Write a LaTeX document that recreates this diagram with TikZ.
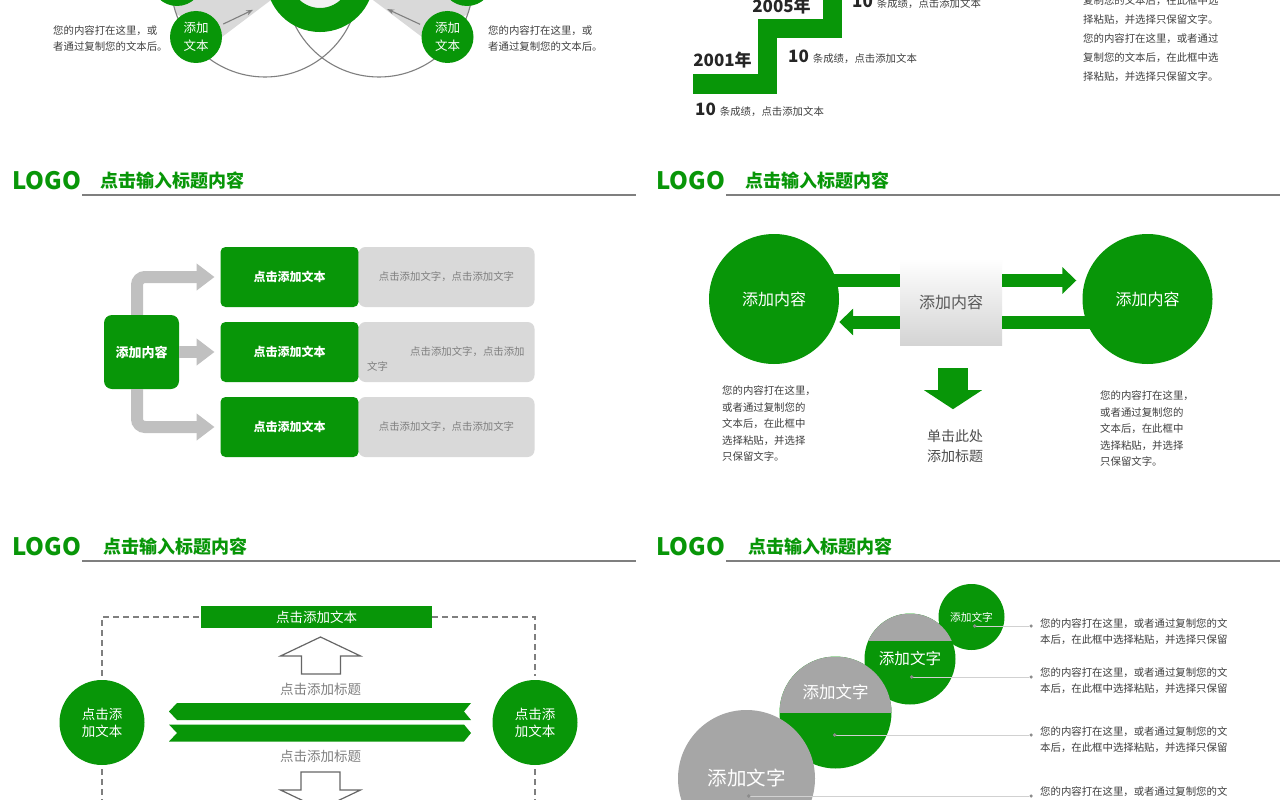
\documentclass[tikz,border=0pt]{standalone}
\usepackage{fontspec}
\setmainfont{Noto Sans CJK SC}
\usetikzlibrary{arrows.meta,positioning}
\definecolor{leaf}{RGB}{8,150,8}
\definecolor{panel}{RGB}{217,217,217}
\definecolor{ball}{RGB}{166,166,166}
\definecolor{ink}{RGB}{64,64,64}
\definecolor{soft}{RGB}{127,127,127}
\definecolor{pipegray}{RGB}{192,192,192}
\newcommand{\fsz}[2]{\fontsize{#1}{#2}\selectfont}

\tikzset{
  body/.style={font=\fsz{10.4}{16.5}, text=ink, inner sep=0pt, align=left, anchor=west},
  logo/.style={font=\fsz{24}{24}\bfseries, text=leaf, inner sep=0pt, anchor=west},
  headline/.style={font=\fsz{18}{18}\bfseries, text=leaf, inner sep=0pt, anchor=west},
  rule/.style={draw=soft, line width=1.3pt},
  oval/.style={shape=circle, fill=leaf, text=white, inner sep=0pt, align=center},
  arcline/.style={draw=soft, line width=1.1pt},
  pointer/.style={draw=soft, line width=1.1pt, -{Stealth[length=7pt,width=5pt]}},
  stair/.style={draw=leaf, line width=19pt, line join=miter},
  year/.style={font=\fsz{17}{17}\bfseries, text=black!85, inner sep=0pt},
  score/.style={font=\fsz{10.4}{12}, text=ink, inner sep=0pt, anchor=base west},
  hubbox/.style={fill=leaf, rounded corners=8pt, minimum width=75pt, minimum height=74pt, text=white, font=\fsz{13}{15}\bfseries},
  tagbox/.style={fill=leaf, rounded corners=5pt, minimum width=138pt, minimum height=60pt, text=white, font=\fsz{12}{14}\bfseries, outer sep=0pt},
  padbox/.style={fill=panel, rounded corners=7pt, minimum width=176pt, minimum height=60pt, text=soft, font=\fsz{10.4}{15}, outer sep=0pt},
  flow/.style={draw=pipegray, line width=12pt, rounded corners=8pt, -{Triangle[length=18pt,width=26pt]}},
  bigdot/.style={shape=circle, fill=leaf, minimum size=130pt, text=white, font=\fsz{16}{18}, inner sep=0pt},
  midbox/.style={top color=white, bottom color=black!17, minimum width=102pt, minimum height=86pt, text=black!65, font=\fsz{16}{18}},
  gbar/.style={draw=leaf, line width=13pt},
  garrow/.style={draw=leaf, line width=13pt, -{Triangle[length=14pt,width=26pt]}},
  downarr/.style={draw=leaf, line width=30pt, -{Triangle[length=19pt,width=57pt]}},
  hint/.style={font=\fsz{14}{20}, text=black!70, align=center, inner sep=0pt},
  dashline/.style={draw=soft, line width=1.1pt, dash pattern=on 6pt off 4pt},
  strip/.style={fill=leaf, minimum width=231pt, minimum height=22pt, text=white, font=\fsz{13.5}{15}, inner sep=0pt},
  softtxt/.style={text=soft, font=\fsz{13.5}{15}, inner sep=0pt},
  hollow/.style={draw=black!60, line width=1.2pt, fill=white, line join=miter},
  halfball/.style={shape=circle, fill=leaf, inner sep=0pt, text=white,
    path picture={\fill[ball] (path picture bounding box.north west) rectangle ([yshift=#1]path picture bounding box.east);}},
  enddot/.style={shape=circle, fill=black!45, minimum size=3.5pt, inner sep=0pt},
  leader/.style={draw=black!18, line width=0.8pt, {Circle[length=3.5pt,color=black!45]}-}
}

\begin{document}
\begin{tikzpicture}[x=1pt,y=-1pt]
    \fill[white] (0,0) rectangle (1280,800);
    \useasboundingbox (0,0) rectangle (1280,800);

    % headers
    \foreach \x/\y/\tx/\n in {0/181/100/a,644/181/745/b,0/547/103/c,644/547/748/d}{
        \node[logo] (logo\n) at (\x+12,\y) {LOGO};
        \node[headline] (title\n) at (\tx,\y) {点击输入标题内容};
        \draw[rule] (\x+82,\y+14) -- (\x+636,\y+14);
    }

    % top left
    \fill[panel] (172.6,0) -- (176,14) -- (222,37) -- (271,0) -- cycle;
    \fill[panel] (471.4,0) -- (468,14) -- (422,37) -- (373,0) -- cycle;
    \draw[arcline] (265,-17) circle[radius=94pt];
    \draw[arcline] (379,-17) circle[radius=94pt];
    \node[shape=circle, draw=leaf, line width=24pt, fill=panel!35, minimum size=84pt, inner sep=0pt] (ring) at (320,-22) {};
    \node[oval, minimum size=52pt] (tlTop) at (177,-20) {};
    \node[oval, minimum size=52pt] (trTop) at (467,-20) {};
    \node[oval, minimum size=52pt, font=\fsz{12.5}{18}] (tlDot) at (196,37) {添加\\文本};
    \node[oval, minimum size=52pt, font=\fsz{12.5}{18}] (trDot) at (447.5,37) {添加\\文本};
    \draw[pointer, shorten <=4pt, shorten >=20pt] (tlDot) -- (ring);
    \draw[pointer, shorten <=4pt, shorten >=20pt] (trDot) -- (ring);
    \node[body, font=\fsz{10.4}{16}] (tlNote) at (53,39) {您的内容打在这里，或\\者通过复制您的文本后。};
    \node[body, font=\fsz{10.4}{16}] (trNote) at (488,39) {您的内容打在这里，或\\者通过复制您的文本后。};

    % top right
    \draw[stair] (693,84) -- (767,84) -- (767,28.5) -- (832,28.5) -- (832,-12);
    \node[year] (y1) at (722.5,60) {2001年};
    \node[year] (y2) at (781.5,6) {2005年};
    \node[score] (s1) at (695,115) {{\color{black!85}\fsz{17}{17}\bfseries 10}\hspace{4pt}条成绩，点击添加文本};
    \node[score] (s2) at (788,63) {{\color{black!85}\fsz{17}{17}\bfseries 10}\hspace{4pt}条成绩，点击添加文本};
    \node[score] (s3) at (852,8) {{\color{black!85}\fsz{17}{17}\bfseries 10}\hspace{4pt}条成绩，点击添加文本};
    \node[body, font=\fsz{10.4}{19}] (trBlock) at (1083,39) {复制您的文本后，在此框中选\\择粘贴，并选择只保留文字。\\您的内容打在这里，或者通过\\复制您的文本后，在此框中选\\择粘贴，并选择只保留文字。};

    % middle left
    \node[hubbox] (hub) at (141.5,352) {添加内容};
    \node[tagbox] (t1) at (289.5,277) {点击添加文本};
    \node[tagbox, below=15pt of t1] (t2) {点击添加文本};
    \node[tagbox, below=15pt of t2] (t3) {点击添加文本};
    \node[padbox, right=0pt of t1] (p1) {点击添加文字，点击添加文字};
    \node[padbox, right=0pt of t2] (p2) {};
    \node[padbox, right=0pt of t3] (p3) {点击添加文字，点击添加文字};
    \node[body, text=soft, font=\fsz{10.4}{15}] (p2txt) at (367,359.5) {\hspace*{43pt}点击添加文字，点击添加\\文字};
    \draw[flow] ([xshift=-4.5pt]hub.north) |- ([xshift=-6pt]t1.west);
    \draw[flow] (hub.east) -- ([xshift=-6pt]t2.west);
    \draw[flow] ([xshift=-4.5pt]hub.south) |- ([xshift=-6pt]t3.west);

    % middle right
    \coordinate (upY) at (0,280.5);
    \coordinate (loY) at (0,322);
    \node[bigdot] (lc) at (774,299) {添加内容};
    \node[bigdot] (rc) at (1147.5,299) {添加内容};
    \node[midbox] (mid) at (951,302) {添加内容};
    \coordinate (lcIn) at ([xshift=-8pt]lc.east);
    \coordinate (rcIn) at ([xshift=8pt]rc.west);
    \draw[gbar] (lcIn |- upY) -- (mid.west |- upY);
    \draw[garrow] (mid.west |- loY) -- (lc.east |- loY);
    \draw[garrow, shorten >=6pt] (mid.east |- upY) -- (rc.west |- upY);
    \draw[gbar] (mid.east |- loY) -- (rcIn |- loY);
    \draw[downarr] ([xshift=2pt,yshift=-23pt]mid.south) -- ++(0,41);
    \node[hint] (hint) at (955,446) {单击此处\\添加标题};
    \node[body] (lcNote) at (722,424) {您的内容打在这里，\\或者通过复制您的\\文本后，在此框中\\选择粘贴，并选择\\只保留文字。};
    \node[body] (rcNote) at (1100,429) {您的内容打在这里，\\或者通过复制您的\\文本后，在此框中\\选择粘贴，并选择\\只保留文字。};

    % bottom left
    \coordinate (floor) at (0,800);
    \node[strip] (topbar) at (316.5,617) {点击添加文本};
    \node[oval, minimum size=85pt, font=\fsz{13.5}{17}] (lcir) at (102,722.5) {点击添\\加文本};
    \node[oval, minimum size=85pt, font=\fsz{13.5}{17}] (rcir) at (535,722.5) {点击添\\加文本};
    \draw[dashline, shorten <=4pt] (lcir.north) |- (topbar.west);
    \draw[dashline, shorten >=4pt] (topbar.east) -| (rcir.north);
    \draw[dashline, shorten <=4pt] (lcir.south) -- (lcir.south |- floor);
    \draw[dashline, shorten <=4pt] (rcir.south) -- (rcir.south |- floor);
    \node[softtxt] (upCap) at (320.5,689) {点击添加标题};
    \node[softtxt] (dnCap) at (320.5,756) {点击添加标题};
    \draw[hollow] ([yshift=52pt]upCap.center) -- ++(40,19) -- ++(-20,0) -- ++(0,18) -- ++(-39,0) -- ++(0,-18) -- ++(-21,0) -- cycle;
    \draw[hollow] ([xshift=-19.5pt,yshift=-16pt]dnCap.center) -- ++(39,0) -- ++(0,18) -- ++(20.5,0) -- ++(-40,19) -- ++(-40,-19) -- ++(20.5,0) -- cycle;
    \fill[leaf] (169,711.5) -- (177,703) -- (471,703) -- (464,711.5) -- (471,720) -- (177,720) -- cycle;
    \fill[leaf] (169,724.5) -- (464,724.5) -- (471,733) -- (464,741.5) -- (169,741.5) -- (177,733) -- cycle;

    % bottom right
    \node[oval, minimum size=66pt, font=\fsz{10.7}{12}] (c1) at (971.5,617) {添加文字};
    \node[halfball=18pt, minimum size=91pt, font=\fsz{15.6}{17}] (c2) at (910,659) {添加文字};
    \node[halfball=0pt, minimum size=112pt, label={[text=white, font=\fsz{16.5}{18}, yshift=20.5pt]center:添加文字}] (c3) at (835.5,712.5) {};
    \node[shape=circle, fill=ball, minimum size=137pt, text=white, font=\fsz{19.5}{21}] (c4) at (746.5,778.5) {添加文字};
    \node[enddot] (e1) at (1031,626) {};
    \node[enddot] (e2) at (1031,677) {};
    \node[enddot] (e3) at (1031,735) {};
    \node[enddot] (e4) at (1031,796) {};
    \draw[leader] ([xshift=1.5pt,yshift=-9pt]c1.center) -- (e1);
    \draw[leader] ([yshift=-18pt]c2.center) -- (e2);
    \draw[leader] ([xshift=-2.5pt,yshift=-22.5pt]c3.center) -- (e3);
    \draw[leader] ([xshift=0.5pt,yshift=-17.5pt]c4.center) -- (e4);
    \foreach \i/\yy in {1/632,2/680.5,3/739.5}{
        \node[body, font=\fsz{10.4}{16}] (n\i) at (1040,\yy) {您的内容打在这里，或者通过复制您的文\\本后，在此框中选择粘贴，并选择只保留};
    }
    \node[body] (n4) at (1040,792) {您的内容打在这里，或者通过复制您的文};
\end{tikzpicture}
\end{document}
